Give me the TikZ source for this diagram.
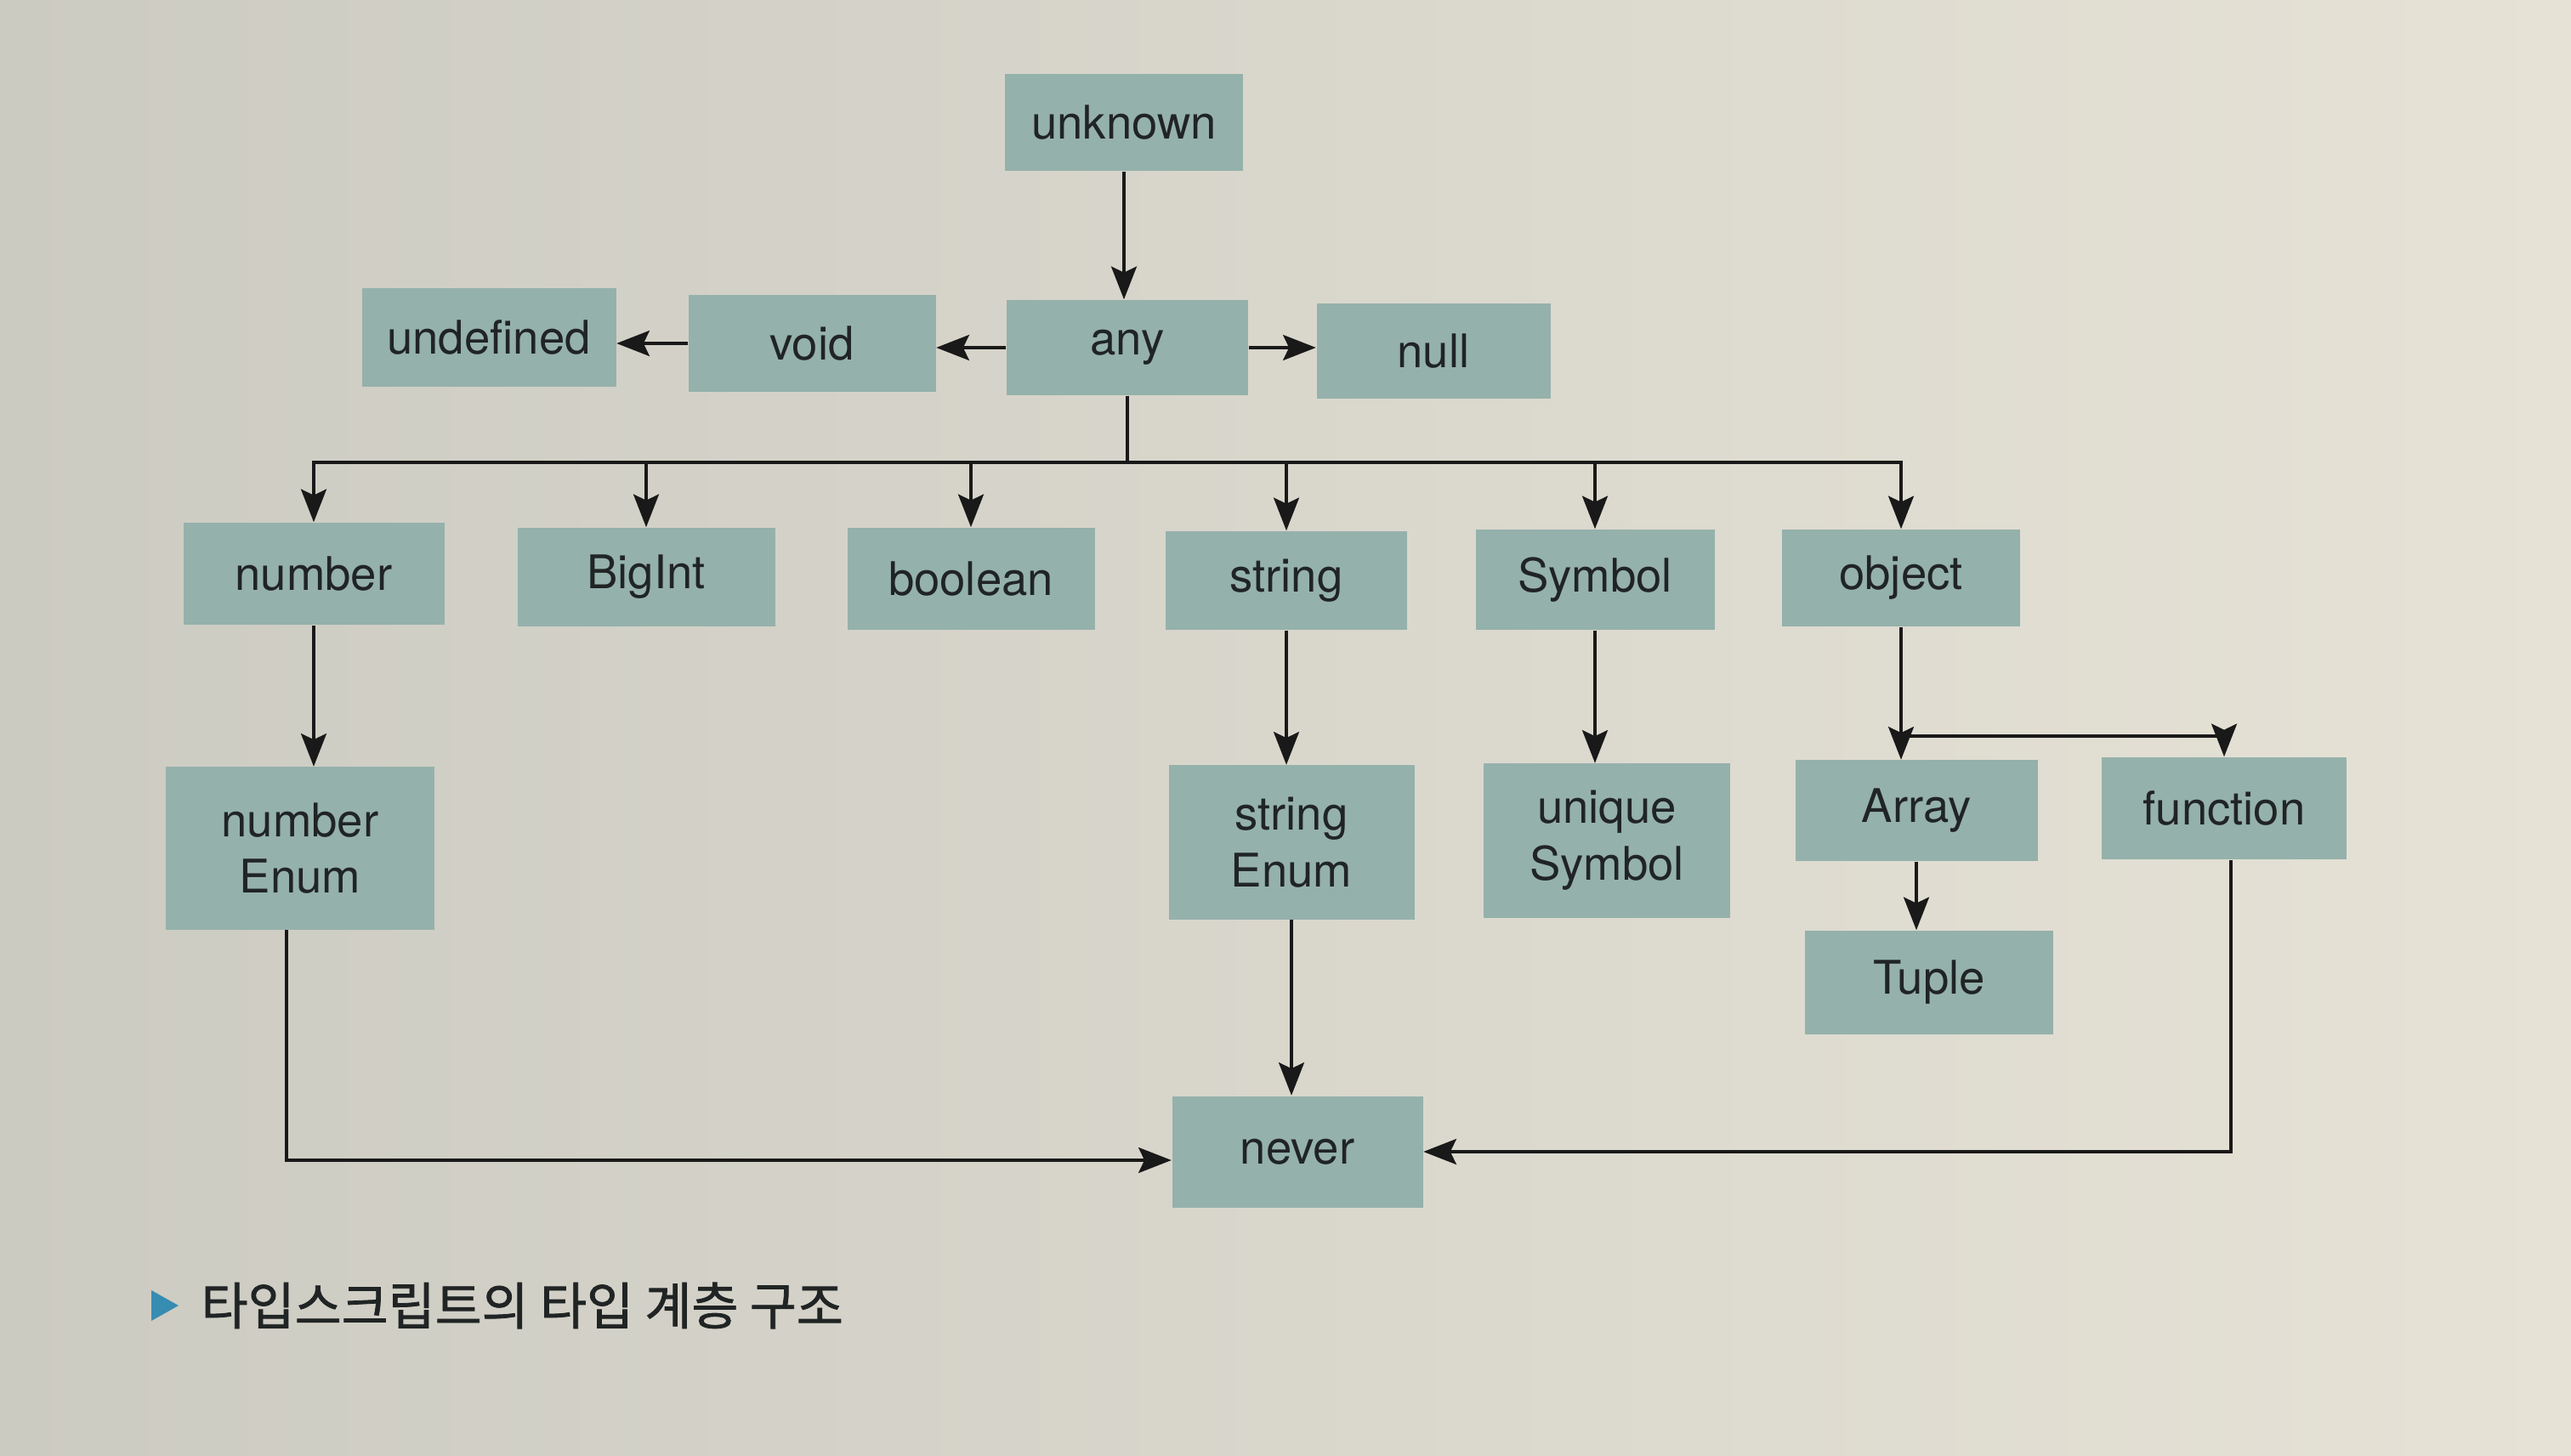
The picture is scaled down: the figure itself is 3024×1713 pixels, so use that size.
\documentclass[tikz,border=0pt]{standalone}
\usepackage{fontspec}
\setmainfont{TeX Gyre Heros}
\newfontfamily\kr{Noto Sans CJK KR}[FakeBold=1.3]
\usetikzlibrary{arrows.meta}
\definecolor{paperL}{RGB}{204,203,194}
\definecolor{paperR}{RGB}{230,226,214}
\definecolor{boxc}{RGB}{149,177,171}
\definecolor{txtc}{RGB}{32,36,36}
\definecolor{capblue}{RGB}{55,140,178}
\tikzset{
  box/.style={rectangle, fill=boxc, text=txtc, inner sep=0pt, align=center,
    font=\fontsize{15.5}{19}\selectfont},
  sz/.style 2 args={minimum width={#1*0.01cm}, minimum height={#2*0.01cm}},
  arr/.style={draw=black!90, line width=1.1pt, -{Stealth[length=11pt,width=8.5pt,inset=2pt]}},
  ln/.style={draw=black!90, line width=1.1pt},
}
\begin{document}
\begin{tikzpicture}[x=0.01cm, y=-0.01cm]
\useasboundingbox (0,0) rectangle (3024,1713);
\shade[left color=paperL, right color=paperR] (0,0) rectangle (3024,1713);

\node[box, sz={280}{114}] (unknown) at (1322,144) {unknown};
\node[box, sz={284}{112}] (any) at (1326,409) {any};
\node[box, sz={275}{112}] (null) at (1686,413) {null};
\node[box, sz={291}{114}] (void) at (955,404) {void};
\node[box, sz={299}{116}] (undef) at (575,397) {undefined};

\node[box, sz={307}{120}] (number) at (369,675) {number};
\node[box, sz={303}{116}] (bigint) at (760,679) {BigInt};
\node[box, sz={291}{120}] (boolean) at (1142,681) {boolean};
\node[box, sz={284}{116}] (string) at (1513,683) {string};
\node[box, sz={281}{118}] (symbol) at (1876,682) {Symbol};
\node[box, sz={280}{114}] (object) at (2236,680) {object};

\node[box, sz={316}{191}] (numenum) at (353,998) {number\\Enum};
\node[box, sz={289}{181}] (strenum) at (1519,991) {string\\Enum};
\node[box, sz={290}{181}] (usym) at (1890,989) {unique\\Symbol};
\node[box, sz={285}{119}] (array) at (2254,954) {Array};
\node[box, sz={288}{120}] (function) at (2616,951) {function};
\node[box, sz={292}{122}] (tuple) at (2269,1156) {Tuple};
\node[box, sz={295}{131}] (never) at (1526,1355) {never};

% top
\draw[arr] (unknown.south) -- (unknown.south |- any.north);
\draw[arr] (any.west) -- (any.west -| void.east);
\draw[arr] (void.west) -- (void.west -| undef.east);
\draw[arr] (any.east) -- (any.east -| null.west);

% bus
\draw[ln] (any.south) -- ++(0,78) coordinate (bus);
\draw[arr] (bus) -| (number);
\draw[arr] (bus) -| (bigint);
\draw[arr] (bus) -| (boolean);
\draw[arr] (bus) -| (string);
\draw[arr] (bus) -| (symbol);
\draw[arr] (bus) -| (object);

% third row
\draw[arr] (number.south) -- (number.south |- numenum.north);
\draw[arr] (string.south) -- (string.south |- strenum.north);
\draw[arr] (symbol.south) -- (symbol.south |- usym.north);
\draw[arr] (object.south) -- ++(0,128) coordinate (split) -- (split |- array.north);
\draw[arr] (split) -| (function);
\draw[arr] (array.south) -- (array.south |- tuple.north);

% to never
\draw[arr] ([xshift=-0.16cm]numenum.south) |- ([yshift=-0.1cm]never.west);
\draw[arr] (strenum.south) -- (strenum.south |- never.north);
\draw[arr] ([xshift=0.08cm]function.south) |- (never.east);

% caption
\fill[capblue] (178,1518) -- (210,1536) -- (178,1554) -- cycle;
\node[anchor=west, inner sep=0pt, text=txtc, font=\kr\fontsize{17}{20}\selectfont] (cap) at (236,1536) {타입스크립트의 타입 계층 구조};
\end{tikzpicture}
\end{document}
